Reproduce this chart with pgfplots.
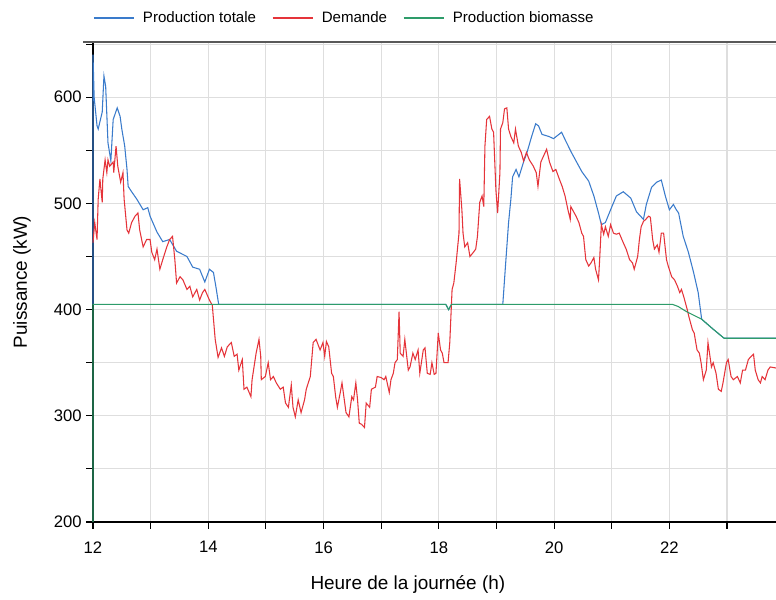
\documentclass[border=0pt]{standalone}
\usepackage{fontspec}
\setmainfont{Liberation Sans}
\usepackage{pgfplots}
\pgfplotsset{compat=1.18}
\definecolor{cblue}{HTML}{3A7BCB}
\definecolor{cred}{HTML}{E5343A}
\definecolor{cgreen}{HTML}{2E9C6A}
\definecolor{cgrid}{HTML}{DEDEDE}
\begin{document}
\begin{tikzpicture}
\begin{axis}[
  scale only axis, width=512.25pt, height=360pt,
  xmin=12, xmax=23.85, ymin=200, ymax=652,
  clip=false,
  axis lines=left, axis line style={-, black, line width=0.9pt},
  xtick={12,14,...,22}, minor xtick={13,15,...,23},
  ytick={200,300,...,600}, minor ytick={250,350,...,650},
  grid=both,
  major grid style={cgrid, line width=0.8pt},
  minor grid style={cgrid, line width=0.8pt},
  tick align=outside, major tick length=5pt, minor tick length=5pt,
  tick style={black, line width=0.8pt},
  /pgf/number format/assume math mode=true,
  ticklabel style={font=\fontsize{12.5}{14}\selectfont},
  xticklabel style={yshift=-6pt},
  xlabel={Heure de la journée (h)},
  ylabel={Puissance (kW)},
  label style={font=\fontsize{14.2}{16}\selectfont},
  xlabel style={at={(axis description cs:0.461,-0.131)}, anchor=center},
  ylabel style={at={(axis description cs:-0.104,0.5)}, anchor=center},
  legend columns=3,
  legend style={draw=none, fill=none, at={(axis description cs:0,1)}, anchor=west,
    yshift=18pt, xshift=0pt, inner xsep=0pt, font=\fontsize{11.3}{13}\selectfont,
    /tikz/every even column/.append style={column sep=10pt}},
  legend cell align=left,
  legend image code/.code={\draw[#1] (0pt,0pt) -- (30pt,0pt); \path (34.5pt,0pt);},
]
\addplot[cblue, line width=0.8pt] coordinates {
(12.00,405) (12.00,640) (12.02,600) (12.07,573) (12.09,570) (12.16,586) (12.19,620)
(12.22,610) (12.26,557) (12.31,540) (12.35,579) (12.42,590) (12.47,582) (12.50,570)
(12.55,554) (12.59,532) (12.61,516) (12.67,511) (12.76,504) (12.87,494) (12.95,496)
(12.99,488) (13.11,473) (13.21,464) (13.33,466) (13.45,455) (13.63,450) (13.73,440)
(13.85,438) (13.94,426) (14.02,438) (14.09,435) (14.14,419) (14.18,405)
(18.12,405) (18.17,400) (18.22,405) (19.11,405)
(19.16,444) (19.21,482) (19.25,504) (19.28,525) (19.34,532) (19.39,525) (19.47,539)
(19.53,548) (19.61,563) (19.68,575) (19.73,573) (19.79,565) (19.91,563) (19.99,561)
(20.13,567) (20.20,559) (20.30,548) (20.48,530) (20.60,521) (20.69,507) (20.77,491)
(20.82,480) (20.89,482) (20.98,494) (21.08,507) (21.20,511) (21.33,505) (21.43,492)
(21.55,485) (21.60,499) (21.69,515) (21.78,520) (21.86,522) (21.93,507) (22.00,494)
(22.07,499) (22.12,494) (22.16,491) (22.24,469) (22.33,454) (22.42,435) (22.50,416)
(22.56,391) (22.75,382) (22.95,373) (23.85,373)
};
\addlegendentry{Production totale}
\addplot[cred, line width=0.8pt] coordinates {
(12.00,463) (12.03,482) (12.07,466) (12.09,504) (12.12,523) (12.16,501) (12.17,523)
(12.21,541) (12.24,529) (12.26,541) (12.29,535) (12.35,539) (12.36,529) (12.40,554)
(12.43,535) (12.48,520) (12.52,529) (12.54,504) (12.59,475) (12.62,472) (12.67,482)
(12.73,488) (12.78,491) (12.81,475) (12.87,459) (12.93,466) (12.99,466) (13.02,454)
(13.07,447) (13.11,457) (13.16,438) (13.21,447) (13.28,459) (13.33,466) (13.38,469)
(13.42,447) (13.45,425) (13.51,431) (13.56,428) (13.63,419) (13.68,422) (13.73,412)
(13.80,419) (13.85,409) (13.90,416) (13.94,419) (14.02,409) (14.07,404) (14.12,372)
(14.17,355) (14.23,364) (14.28,356) (14.33,365) (14.40,369) (14.45,356) (14.50,358)
(14.53,343) (14.59,353) (14.62,325) (14.67,327) (14.74,318) (14.76,334) (14.83,359)
(14.88,372) (14.91,356) (14.92,334) (14.99,337) (15.04,350) (15.08,334) (15.13,337)
(15.18,331) (15.25,325) (15.30,327) (15.34,312) (15.39,308) (15.44,329) (15.47,308)
(15.51,299) (15.56,315) (15.61,303) (15.67,315) (15.70,325) (15.77,337) (15.82,369)
(15.87,372) (15.94,362) (15.99,369) (16.02,356) (16.05,370) (16.09,365) (16.14,340)
(16.17,337) (16.21,318) (16.24,308) (16.29,322) (16.32,331) (16.36,315) (16.39,303)
(16.44,299) (16.49,318) (16.52,315) (16.56,331) (16.59,315) (16.62,293) (16.66,292)
(16.71,289) (16.74,312) (16.80,308) (16.83,325) (16.90,327) (16.93,337) (17.00,336)
(17.05,334) (17.08,337) (17.14,322) (17.17,334) (17.21,340) (17.24,350) (17.28,353)
(17.31,398) (17.33,359) (17.38,356) (17.41,372) (17.47,343) (17.50,346) (17.55,359)
(17.59,353) (17.64,362) (17.67,340) (17.73,362) (17.76,364) (17.80,340) (17.85,339)
(17.88,350) (17.92,339) (17.95,340) (17.99,378) (18.03,362) (18.06,359) (18.09,350)
(18.16,350) (18.19,369) (18.23,419) (18.26,425) (18.30,444) (18.35,472) (18.36,523)
(18.40,494) (18.42,472) (18.45,459) (18.50,463) (18.54,450) (18.60,454) (18.64,457)
(18.67,469) (18.71,501) (18.75,507) (18.78,497) (18.80,554) (18.83,579) (18.88,582)
(18.92,570) (18.95,567) (18.99,513) (19.02,491) (19.06,529) (19.07,570) (19.11,576)
(19.14,589) (19.18,590) (19.21,570) (19.25,563) (19.30,557) (19.33,570) (19.38,554)
(19.43,548) (19.47,540) (19.52,548) (19.57,541) (19.64,535) (19.69,529) (19.72,516)
(19.77,539) (19.82,545) (19.87,551) (19.92,539) (19.98,530) (20.03,532) (20.09,523)
(20.14,516) (20.19,507) (20.24,494) (20.28,485) (20.29,497) (20.35,491) (20.38,488)
(20.43,482) (20.48,472) (20.51,469) (20.55,447) (20.60,441) (20.64,444) (20.69,449)
(20.72,438) (20.77,428) (20.79,447) (20.82,480) (20.86,471) (20.89,478) (20.94,469)
(20.98,480) (21.03,472) (21.08,471) (21.13,472) (21.20,463) (21.25,457) (21.31,447)
(21.36,444) (21.39,438) (21.45,450) (21.48,466) (21.51,478) (21.55,483) (21.59,485)
(21.64,488) (21.67,487) (21.71,466) (21.74,457) (21.79,461) (21.82,454) (21.86,472)
(21.90,472) (21.95,447) (21.98,441) (22.04,431) (22.09,428) (22.14,422) (22.18,416)
(22.21,419) (22.25,412) (22.31,400) (22.34,393) (22.40,381) (22.43,378) (22.48,362)
(22.52,359) (22.55,350) (22.59,334) (22.64,343) (22.67,369) (22.73,346) (22.76,350)
(22.81,340) (22.85,325) (22.90,323) (22.93,331) (22.99,350) (23.02,353) (23.07,337)
(23.11,334) (23.18,337) (23.23,331) (23.27,343) (23.32,343) (23.37,353) (23.42,356)
(23.46,358) (23.49,343) (23.54,334) (23.58,331) (23.61,337) (23.66,334) (23.71,343)
(23.75,346) (23.85,345)
};
\addlegendentry{Demande}
\addplot[cgreen, line width=0.8pt] coordinates {
(12.00,200) (12.00,405) (18.12,405) (18.17,400) (18.22,405) (22.05,405) (22.15,403)
(22.30,398) (22.56,391) (22.75,382) (22.95,373) (23.85,373)
};
\addlegendentry{Production biomasse}
\end{axis}
\draw[black!65, line width=1.5pt] ([xshift=-7.5pt]current axis.north west) -- (current axis.north east);
\pgfresetboundingbox
\path ([xshift=-69.75pt,yshift=-57.75pt]current axis.south west) rectangle ([yshift=31.5pt]current axis.north east);
\end{tikzpicture}
\end{document}
